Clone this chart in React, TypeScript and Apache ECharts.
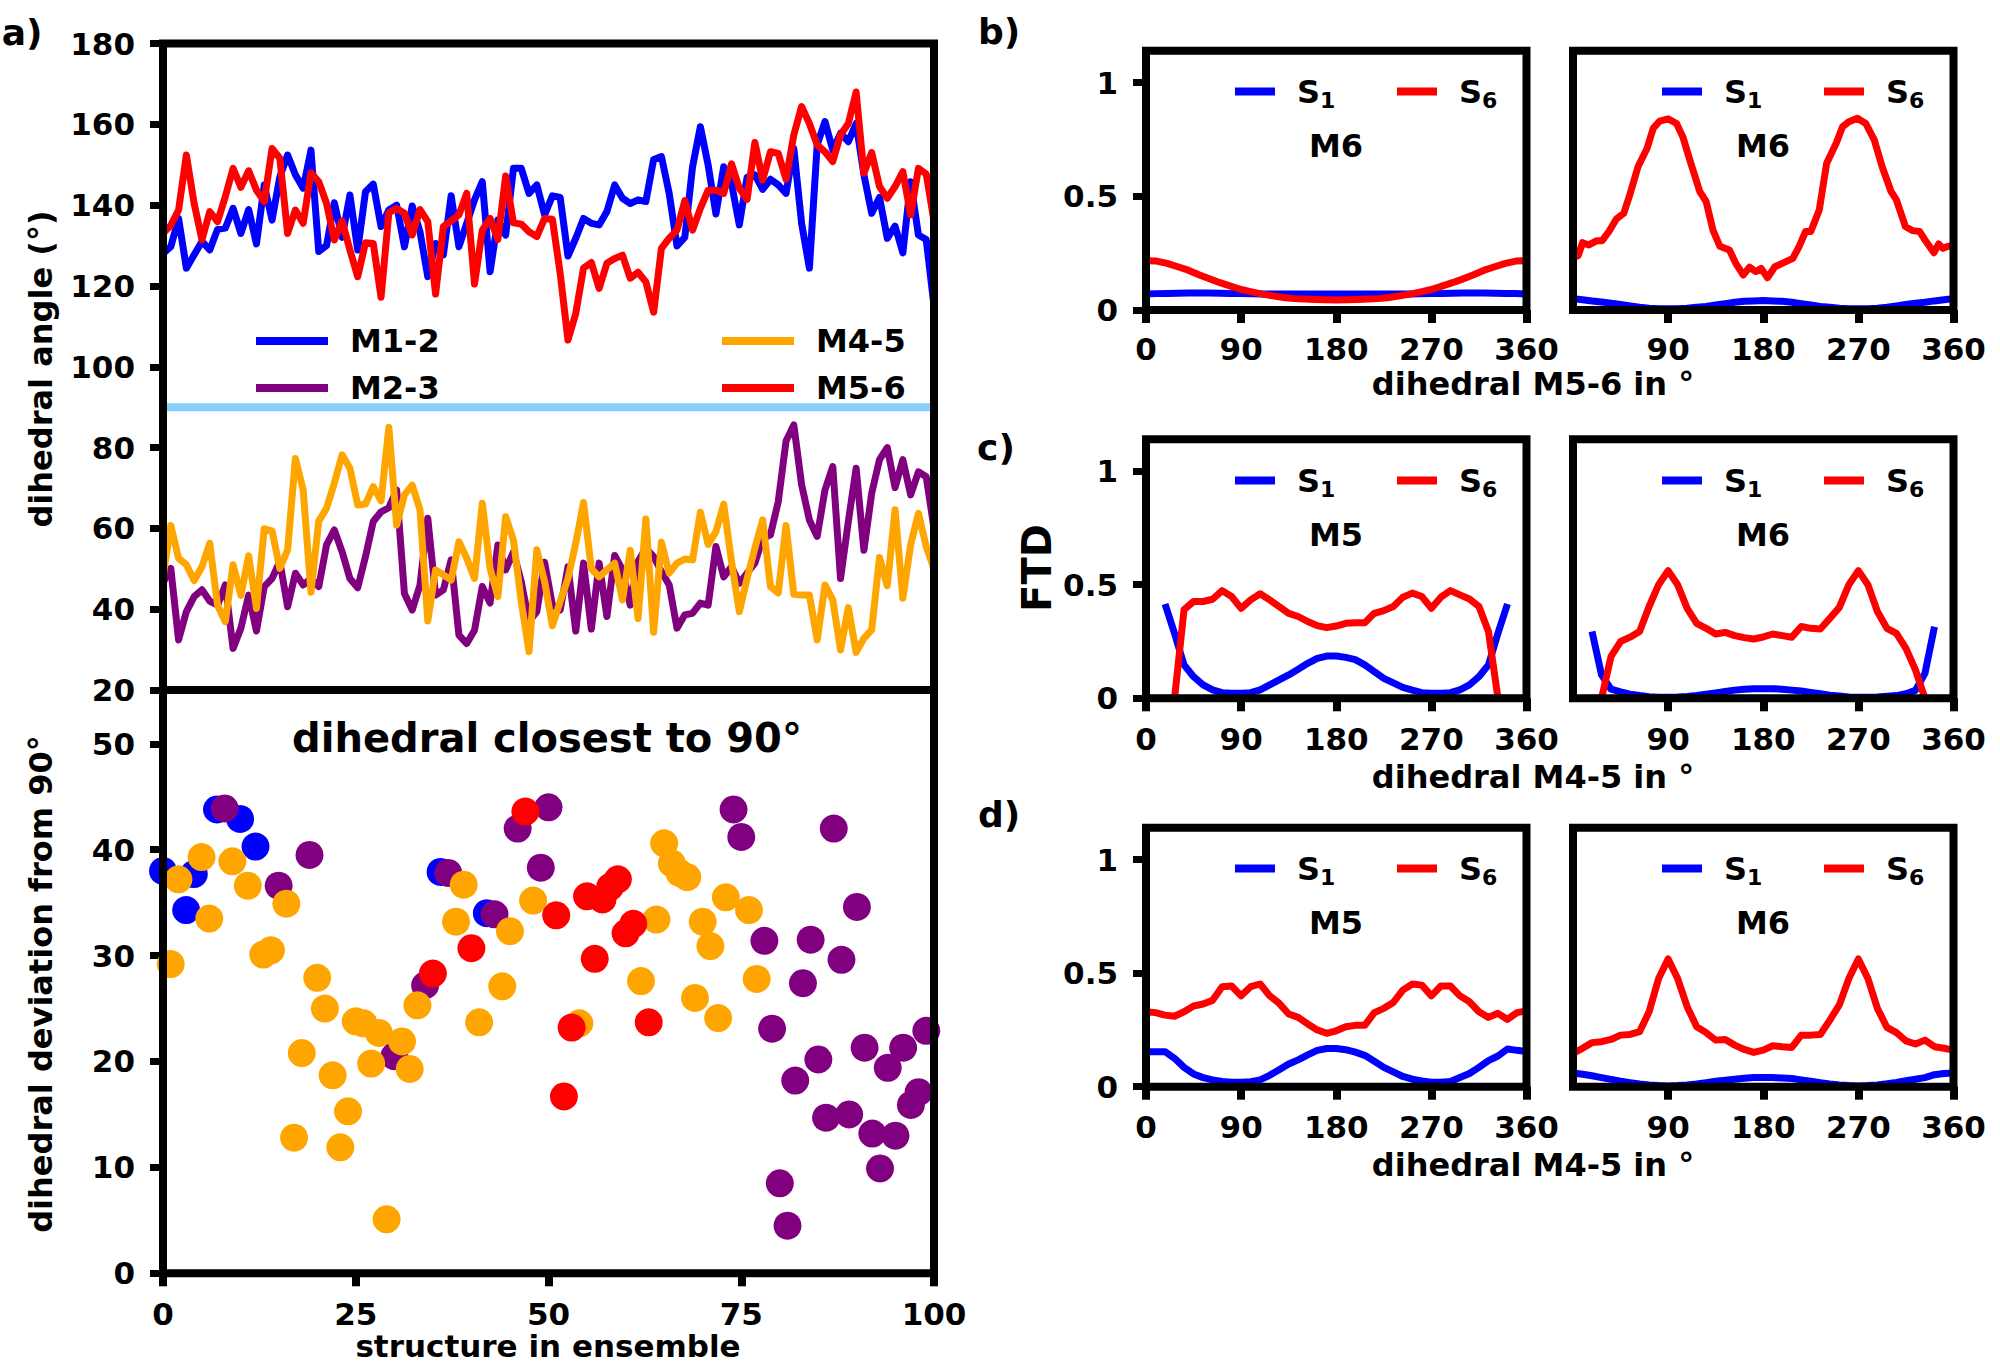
import React, { useEffect, useRef } from 'react';
import * as echarts from 'echarts';

const FONT = '"DejaVu Sans"';

// panel a, top: dihedral angles per structure (100 points spread over 0..100)
const m12 = [128, 129.7, 136.7, 124.4, 127.7, 131, 128.9, 134, 134.3, 139.2, 133, 138.9, 130.4, 145, 136.3, 147, 152.4, 147.5, 144.2, 153.6, 128.5, 130, 140.6, 132, 142.5, 128.9, 143.3, 145.2, 134.7, 138.8, 140, 129.7, 139.8, 133.4, 122.3, 130.5, 127.7, 142.3, 129.7, 135.5, 141.3, 145.8, 123.5, 136.3, 132.6, 149.1, 149.1, 142.9, 145, 137.6, 142.3, 141.9, 127.4, 131.8, 136.7, 135.5, 135.1, 138.4, 145, 141.7, 140.4, 141.3, 140.9, 151.3, 152, 142.9, 129.9, 132, 149.5, 159.4, 149.9, 137.8, 149.5, 145.4, 135.1, 146.9, 147.5, 143.9, 146.4, 145, 142.9, 154, 135.5, 124.4, 154.9, 160.7, 153.6, 157.8, 155.7, 160.2, 147.5, 138, 141.9, 131.8, 134.8, 128.2, 145.8, 132.6, 131.5, 115];
const m23 = [46.5, 50.1, 32.4, 39.4, 43.1, 44.8, 42, 41, 46, 30.3, 35.3, 43.5, 34.6, 45.6, 47.6, 51.8, 40.6, 48.9, 46, 47.6, 45.6, 55.9, 59.6, 54.2, 47.6, 45.3, 53, 61.7, 64.1, 65.1, 69.5, 43.9, 39.8, 46, 62.5, 43.5, 44.8, 52.2, 33.6, 31.5, 34.8, 45.6, 41.5, 55.9, 49.7, 54.2, 46.8, 36.9, 39.4, 51.6, 41, 39.8, 50.5, 34.6, 51.4, 35.1, 51.4, 38.2, 53.3, 49.7, 41, 51.8, 55.1, 53, 49.3, 46, 35.3, 38.6, 39, 41.5, 41, 55.5, 48, 50.5, 46.4, 48.9, 51.4, 57.5, 58.4, 66.6, 81.6, 85.6, 70.8, 62.1, 58, 69.5, 75.3, 47.6, 61.7, 74.9, 54.6, 68.7, 77, 80, 70.1, 77, 68.3, 74, 72.8, 60];
const m45 = [48, 60.7, 52.6, 51, 47.1, 50.5, 56.3, 41, 36.9, 51, 43.4, 53.2, 40.2, 59.9, 59.4, 50.1, 54.7, 77.3, 69.5, 44.2, 61.8, 65, 71.2, 78.2, 74.9, 65.8, 66, 70.3, 66.8, 85, 60.8, 68.3, 70.7, 64.6, 37.1, 49.7, 48.5, 47.2, 56.7, 52.6, 47.6, 66.2, 50.1, 43.1, 62.9, 57.1, 41.9, 29.5, 54.7, 46.8, 35.9, 41.9, 47.6, 56.3, 66.4, 50, 48, 49.7, 51.4, 42.3, 54.6, 37.7, 62.3, 34.3, 56.6, 48.9, 51.4, 52.4, 52.2, 64, 56, 59.2, 66, 51.8, 39.4, 47.6, 55.1, 62.1, 45.6, 44, 60.7, 43.7, 43.5, 43.5, 32.4, 46, 42.3, 29.9, 40.4, 29.3, 32.8, 34.9, 52.8, 45.8, 64.6, 42.7, 55.9, 63.7, 55.5, 50];
const m56 = [133, 135, 138.8, 152.4, 140.4, 131.4, 138.4, 135.9, 142.1, 149.1, 144.4, 148.5, 143.7, 140.9, 154, 151.6, 133, 138.8, 135.5, 148, 145.8, 140.4, 131.4, 136.1, 128.9, 122.3, 130.7, 130.5, 117.2, 138.1, 139.2, 138, 132.6, 138.9, 135.9, 118, 134.7, 136.1, 137.6, 142.9, 120.5, 133.8, 136.7, 131.5, 147.2, 135.6, 135.3, 133.4, 132.2, 136.7, 136.5, 123.1, 106.6, 113.2, 124.4, 125.8, 119.4, 125.6, 126.8, 127.6, 121.9, 123.4, 121, 113.5, 129.3, 131.8, 133.8, 141.1, 133.8, 139.2, 143.7, 143.7, 142.9, 150.2, 144.2, 141.4, 155.5, 146.2, 153.2, 152.8, 146.4, 157.4, 164.4, 160.2, 154.9, 153.2, 150.8, 157.4, 160.2, 168, 147.9, 153, 144.6, 141.7, 144.6, 148.3, 137.6, 149.1, 147.7, 136];
const ninety = [[0, 90], [100, 90]];

// panel a, bottom: [structure, deviation], one list per dihedral
const devM12 = [[0, 38], [3, 34.3], [4, 37.7], [7, 43.8], [10, 42.9], [12, 40.3], [36, 37.9], [42, 34]];
const devM23 = [[8, 43.9], [15, 36.6], [19, 39.5], [30, 20.5], [34, 27.2], [37, 37.8], [43, 33.9], [46, 42], [49, 38.3], [50, 44], [74, 43.8], [75, 41.2], [78, 31.4], [79, 23.1], [80, 8.5], [81, 4.5], [82, 18.2], [83, 27.4], [84, 31.5], [85, 20.2], [86, 14.7], [87, 42], [88, 29.6], [89, 15], [90, 34.6], [91, 21.3], [92, 13.2], [93, 9.9], [94, 19.4], [95, 13], [96, 21.3], [97, 15.9], [98, 17.1], [99, 22.9]];
const devM45 = [[1, 29.2], [2, 37.2], [5, 39.3], [6, 33.5], [9, 38.9], [11, 36.6], [13, 30.1], [14, 30.5], [16, 34.9], [17, 12.8], [18, 20.8], [20, 27.9], [21, 25], [22, 18.7], [23, 11.9], [24, 15.3], [25, 23.8], [26, 23.6], [27, 19.8], [28, 22.7], [29, 5.1], [31, 21.9], [32, 19.3], [33, 25.3], [38, 33.2], [39, 36.7], [41, 23.7], [44, 27.1], [45, 32.3], [48, 35.2], [54, 23.6], [62, 27.6], [64, 33.4], [65, 40.6], [66, 38.7], [67, 37.8], [68, 37.4], [69, 26], [70, 33.2], [71, 30.9], [72, 24.1], [73, 35.5], [76, 34.3], [77, 27.8]];
const devM56 = [[35, 28.3], [40, 30.7], [47, 43.6], [51, 33.8], [52, 16.7], [53, 23.2], [55, 35.6], [56, 29.7], [57, 35.3], [58, 36.5], [59, 37.2], [60, 32.1], [61, 33], [63, 23.7]];

// panels b-d: FTD against the dihedral
const bLeftS1 = [0.07, 0.072, 0.073, 0.074, 0.075, 0.075, 0.075, 0.074, 0.073, 0.072, 0.071, 0.07, 0.07, 0.07, 0.07, 0.07, 0.07, 0.07, 0.07, 0.07, 0.07, 0.07, 0.07, 0.07, 0.07, 0.07, 0.071, 0.072, 0.073, 0.074, 0.075, 0.075, 0.075, 0.074, 0.073, 0.072, 0.07];
const bLeftS6 = [0.217, 0.215, 0.205, 0.19, 0.175, 0.155, 0.137, 0.12, 0.105, 0.09, 0.08, 0.07, 0.062, 0.055, 0.05, 0.048, 0.046, 0.045, 0.044, 0.045, 0.046, 0.048, 0.05, 0.055, 0.062, 0.07, 0.08, 0.09, 0.105, 0.12, 0.137, 0.155, 0.175, 0.19, 0.205, 0.215, 0.217];
const bRightS1 = [0.05, 0.045, 0.04, 0.035, 0.03, 0.024, 0.018, 0.012, 0.008, 0.006, 0.005, 0.006, 0.008, 0.012, 0.016, 0.022, 0.028, 0.034, 0.038, 0.04, 0.042, 0.04, 0.038, 0.034, 0.028, 0.022, 0.016, 0.012, 0.008, 0.006, 0.005, 0.006, 0.008, 0.012, 0.018, 0.024, 0.03, 0.034, 0.04, 0.045, 0.05];
const bRightS6 = [[0, 0.23], [5, 0.24], [9, 0.296], [15, 0.286], [22.6, 0.305], [27.6, 0.305], [34, 0.345], [41, 0.4], [48, 0.425], [54, 0.51], [61.5, 0.63], [70, 0.71], [76, 0.8], [82, 0.83], [90, 0.84], [98, 0.82], [104, 0.76], [110.5, 0.66], [120, 0.52], [126, 0.476], [132.5, 0.35], [139, 0.28], [148, 0.264], [154, 0.205], [161, 0.154], [167, 0.188], [173, 0.169], [178, 0.183], [184, 0.142], [191, 0.19], [198, 0.205], [208, 0.227], [214, 0.28], [220, 0.345], [225, 0.345], [233, 0.44], [240, 0.645], [249, 0.733], [255, 0.806], [261, 0.828], [269, 0.843], [277, 0.82], [285, 0.748], [292.5, 0.63], [301, 0.52], [306, 0.484], [314.5, 0.367], [321, 0.349], [328, 0.345], [333, 0.308], [341.5, 0.252], [346, 0.29], [350, 0.271], [355, 0.28], [360, 0.28]];

const cLeftS1 = [0.415, 0.286, 0.147, 0.095, 0.059, 0.037, 0.025, 0.022, 0.022, 0.025, 0.037, 0.059, 0.081, 0.103, 0.128, 0.154, 0.176, 0.186, 0.186, 0.18, 0.17, 0.147, 0.117, 0.088, 0.068, 0.048, 0.036, 0.025, 0.022, 0.022, 0.025, 0.037, 0.059, 0.095, 0.147, 0.286, 0.415];
const cLeftS6 = [0, 0, 0.39, 0.426, 0.426, 0.436, 0.474, 0.448, 0.396, 0.433, 0.46, 0.433, 0.404, 0.374, 0.36, 0.338, 0.32, 0.311, 0.318, 0.33, 0.333, 0.333, 0.374, 0.386, 0.404, 0.445, 0.463, 0.448, 0.396, 0.445, 0.474, 0.455, 0.437, 0.404, 0.294, 0, 0];
const cRightS1 = [0.294, 0.103, 0.04, 0.028, 0.018, 0.012, 0.007, 0.005, 0.005, 0.006, 0.008, 0.012, 0.018, 0.024, 0.03, 0.036, 0.04, 0.042, 0.042, 0.042, 0.04, 0.036, 0.032, 0.026, 0.02, 0.014, 0.01, 0.006, 0.005, 0.005, 0.006, 0.009, 0.012, 0.02, 0.035, 0.11, 0.315];
const cRightS6 = [0, 0, 0.184, 0.25, 0.269, 0.294, 0.404, 0.5, 0.562, 0.5, 0.396, 0.33, 0.308, 0.283, 0.29, 0.276, 0.267, 0.261, 0.27, 0.283, 0.276, 0.269, 0.316, 0.308, 0.305, 0.352, 0.4, 0.5, 0.562, 0.5, 0.382, 0.308, 0.286, 0.22, 0.125, 0, 0];

const dLeftS1 = [0.154, 0.154, 0.154, 0.125, 0.085, 0.056, 0.04, 0.03, 0.023, 0.02, 0.02, 0.022, 0.03, 0.05, 0.075, 0.1, 0.118, 0.14, 0.16, 0.168, 0.168, 0.163, 0.152, 0.138, 0.112, 0.085, 0.065, 0.045, 0.033, 0.025, 0.02, 0.02, 0.023, 0.04, 0.058, 0.085, 0.115, 0.135, 0.166, 0.16, 0.155];
const dLeftS6 = [0.33, 0.326, 0.315, 0.31, 0.33, 0.355, 0.364, 0.38, 0.44, 0.443, 0.4, 0.44, 0.452, 0.4, 0.367, 0.32, 0.305, 0.276, 0.25, 0.235, 0.246, 0.264, 0.27, 0.27, 0.326, 0.345, 0.371, 0.425, 0.452, 0.447, 0.4, 0.443, 0.443, 0.4, 0.374, 0.33, 0.305, 0.323, 0.296, 0.326, 0.334];
const dRightS1 = [0.06, 0.055, 0.048, 0.04, 0.032, 0.024, 0.018, 0.012, 0.008, 0.005, 0.003, 0.005, 0.008, 0.012, 0.018, 0.024, 0.028, 0.033, 0.037, 0.04, 0.04, 0.04, 0.038, 0.036, 0.03, 0.024, 0.018, 0.012, 0.008, 0.005, 0.003, 0.005, 0.008, 0.013, 0.019, 0.026, 0.033, 0.04, 0.053, 0.058, 0.06];
const dRightS6 = [0.147, 0.169, 0.194, 0.198, 0.208, 0.227, 0.23, 0.242, 0.33, 0.476, 0.562, 0.476, 0.352, 0.264, 0.238, 0.205, 0.208, 0.183, 0.164, 0.151, 0.161, 0.18, 0.176, 0.173, 0.227, 0.227, 0.23, 0.293, 0.36, 0.476, 0.562, 0.476, 0.345, 0.261, 0.238, 0.202, 0.188, 0.205, 0.176, 0.169, 0.161];

const BLUE = '#0000ff';
const PURPLE = '#800080';
const ORANGE = '#ffa500';
const RED = '#ff0000';
const SKY = '#87cefa';

// values read every `step` degrees, first one at `start`
const onDegrees = (values: number[], step = 9, start = 0) => values.map((v, i) => [start + i * step, v]);
const overEnsemble = (values: number[]) => values.map((v, i) => [(i * 100) / 99, v]);

const label = (text: string, x: number, y: number, fontSize: number, rotated = false) => ({
  type: 'text',
  x,
  y,
  rotation: rotated ? Math.PI / 2 : 0,
  z: 10,
  style: {
    text,
    fill: '#000',
    font: `bold ${fontSize}px ${FONT}`,
    align: 'center',
    verticalAlign: 'middle'
  }
});

const legendText = { fontFamily: FONT, fontWeight: 'bold', color: '#000' };

const legendItem = (name: string, left: number, cy: number, width: number, height: number) => ({
  data: [name],
  left,
  top: cy - 16,
  padding: 0,
  icon: 'rect',
  itemWidth: width,
  itemHeight: height,
  selectedMode: false,
  textStyle: { ...legendText, fontSize: 32, padding: [0, 0, 0, 17] }
});

// S with a lowered index, the second rich token sits below the first one's middle
const stateLegend = (name: string, index: string, left: number, cy: number) => ({
  ...legendItem(name, left, cy, 40, 8),
  top: cy - 17.5,
  formatter: () => `{s|S}{i|${index}}`,
  textStyle: {
    ...legendText,
    padding: [0, 0, 0, 17],
    rich: {
      s: { ...legendText, fontSize: 32 },
      i: { ...legendText, fontSize: 22, padding: [18, 0, 0, 0] }
    }
  }
});

const grids: any[] = [];
const xAxes: any[] = [];
const yAxes: any[] = [];
const series: any[] = [];
const legends: any[] = [];
const texts: any[] = [];

const axisText = { fontFamily: FONT, fontWeight: 'bold', fontSize: 31, color: '#000' };
const tick = (width: number) => ({ show: true, length: 13, lineStyle: { color: '#000', width } });

const addGrid = (left: number, top: number, right: number, bottom: number) => {
  grids.push({
    show: true,
    z: 5,
    left,
    top,
    width: right - left,
    height: bottom - top,
    borderWidth: 8,
    borderColor: '#000',
    backgroundColor: 'transparent'
  });
  return grids.length - 1;
};

const addLine = (idx: number, name: string, data: number[][], color: string, width: number) => {
  series.push({
    type: 'line',
    name,
    xAxisIndex: idx,
    yAxisIndex: idx,
    data,
    showSymbol: false,
    symbol: 'none',
    lineStyle: { color, width, join: 'round' },
    itemStyle: { color }
  });
};

// panel a, dihedrals
const top = addGrid(163, 43.5, 934, 690);
xAxes.push({
  gridIndex: top,
  type: 'value',
  min: 0,
  max: 100,
  axisLine: { show: false },
  axisTick: { show: false },
  axisLabel: { show: false },
  splitLine: { show: false }
});
yAxes.push({
  gridIndex: top,
  type: 'value',
  min: 20,
  max: 180,
  interval: 20,
  axisLine: { show: false },
  axisTick: tick(7),
  axisLabel: { ...axisText, margin: 28 },
  splitLine: { show: false }
});
addLine(top, 'M1-2', overEnsemble(m12), BLUE, 7);
addLine(top, 'M2-3', overEnsemble(m23), PURPLE, 7);
addLine(top, 'M4-5', overEnsemble(m45), ORANGE, 7);
addLine(top, 'M5-6', overEnsemble(m56), RED, 7);
addLine(top, 'perpendicular', ninety, SKY, 8);
legends.push(legendItem('M1-2', 256, 341, 72, 8));
legends.push(legendItem('M2-3', 256, 388, 72, 8));
legends.push(legendItem('M4-5', 722, 341, 72, 8));
legends.push(legendItem('M5-6', 722, 388, 72, 8));

// panel a, deviation from 90
const bottom = addGrid(163, 690, 934, 1273.3);
xAxes.push({
  gridIndex: bottom,
  type: 'value',
  min: 0,
  max: 100,
  interval: 25,
  axisLine: { show: false },
  axisTick: tick(8),
  axisLabel: { ...axisText, margin: 25 },
  splitLine: { show: false }
});
yAxes.push({
  gridIndex: bottom,
  type: 'value',
  min: 0,
  max: 55.08,
  axisLine: { show: false },
  axisTick: { ...tick(7), customValues: [0, 10, 20, 30, 40, 50] },
  axisLabel: { ...axisText, margin: 28, customValues: [0, 10, 20, 30, 40, 50] },
  splitLine: { show: false }
});
[
  [devM12, BLUE, 'M1-2'],
  [devM23, PURPLE, 'M2-3'],
  [devM45, ORANGE, 'M4-5'],
  [devM56, RED, 'M5-6']
].forEach(([data, color, name]: any) => {
  series.push({
    type: 'scatter',
    name,
    xAxisIndex: bottom,
    yAxisIndex: bottom,
    data,
    symbolSize: 28,
    clip: true,
    itemStyle: { color, opacity: 1 }
  });
});

// panels b-d
const FTD_TICKS = [0, 0.5, 1];
const addFtdPanel = (
  left: number,
  panelTop: number,
  panelBottom: number,
  isFirst: boolean,
  s1: number[][],
  s6: number[][],
  atom: string,
  atomY: number,
  legendY: number,
  labelMargin = 25
) => {
  const right = left + 380.5;
  const idx = addGrid(left, panelTop, right, panelBottom);
  const xTicks = isFirst ? [0, 90, 180, 270, 360] : [90, 180, 270, 360];
  xAxes.push({
    gridIndex: idx,
    type: 'value',
    min: 0,
    max: 360,
    interval: 90,
    axisLine: { show: false },
    axisTick: { ...tick(8), customValues: xTicks },
    axisLabel: { ...axisText, margin: labelMargin, customValues: xTicks },
    splitLine: { show: false }
  });
  yAxes.push({
    gridIndex: idx,
    type: 'value',
    min: 0,
    max: 1.14,
    axisLine: { show: false },
    axisTick: isFirst ? { ...tick(7), customValues: FTD_TICKS } : { show: false },
    axisLabel: isFirst ? { ...axisText, margin: 28, customValues: FTD_TICKS } : { show: false },
    splitLine: { show: false }
  });
  addLine(idx, 'S₁', s1, BLUE, 7);
  addLine(idx, 'S₆', s6, RED, 7);
  legends.push(stateLegend('S₁', '1', left + 89, legendY));
  legends.push(stateLegend('S₆', '6', left + 251, legendY));
  texts.push(label(atom, left + 190, atomY, 32));
};

addFtdPanel(1146, 50.7, 310, true, onDegrees(bLeftS1, 10), onDegrees(bLeftS6, 10), 'M6', 146, 93, 23);
addFtdPanel(1573, 50.7, 310, false, onDegrees(bRightS1), bRightS6, 'M6', 146, 93, 23);
addFtdPanel(1146, 439.3, 698.3, true, onDegrees(cLeftS1, 9, 18), onDegrees(cLeftS6, 9, 18), 'M5', 535, 482);
addFtdPanel(1573, 439.3, 698.3, false, onDegrees(cRightS1, 9, 18), onDegrees(cRightS6, 9, 18), 'M6', 535, 482);
addFtdPanel(1146, 827.7, 1086.7, true, onDegrees(dLeftS1), onDegrees(dLeftS6), 'M5', 923, 870);
addFtdPanel(1573, 827.7, 1086.7, false, onDegrees(dRightS1), onDegrees(dRightS6), 'M6', 923, 870);

texts.push(
  label('a)', 22, 32, 36),
  label('b)', 999, 31, 36),
  label('c)', 996, 447, 36),
  label('d)', 999, 814, 36),
  label('dihedral angle (°)', 41, 369, 32, true),
  label('dihedral deviation from 90°', 41, 984, 32, true),
  label('structure in ensemble', 548, 1346, 31),
  label('dihedral closest to 90°', 547, 738, 40),
  label('dihedral M5-6 in °', 1533, 384, 32),
  label('dihedral M4-5 in °', 1533, 777, 32),
  label('dihedral M4-5 in °', 1533, 1165, 32),
  label('FTD', 1037, 568, 40, true)
);

const App: React.FC = () => {
  const chartRef = useRef<HTMLDivElement>(null);

  useEffect(() => {
    if (!chartRef.current) return;
    const chart = echarts.init(chartRef.current, undefined, { renderer: 'svg' });
    chart.setOption({
      animation: false,
      backgroundColor: '#fff',
      grid: grids,
      xAxis: xAxes,
      yAxis: yAxes,
      legend: legends,
      series,
      graphic: { elements: texts }
    });
    return () => chart.dispose();
  }, []);

  return <div ref={chartRef} style={{ position: 'absolute', left: 0, top: 0, width: 2000, height: 1365 }} />;
};

export default App;
